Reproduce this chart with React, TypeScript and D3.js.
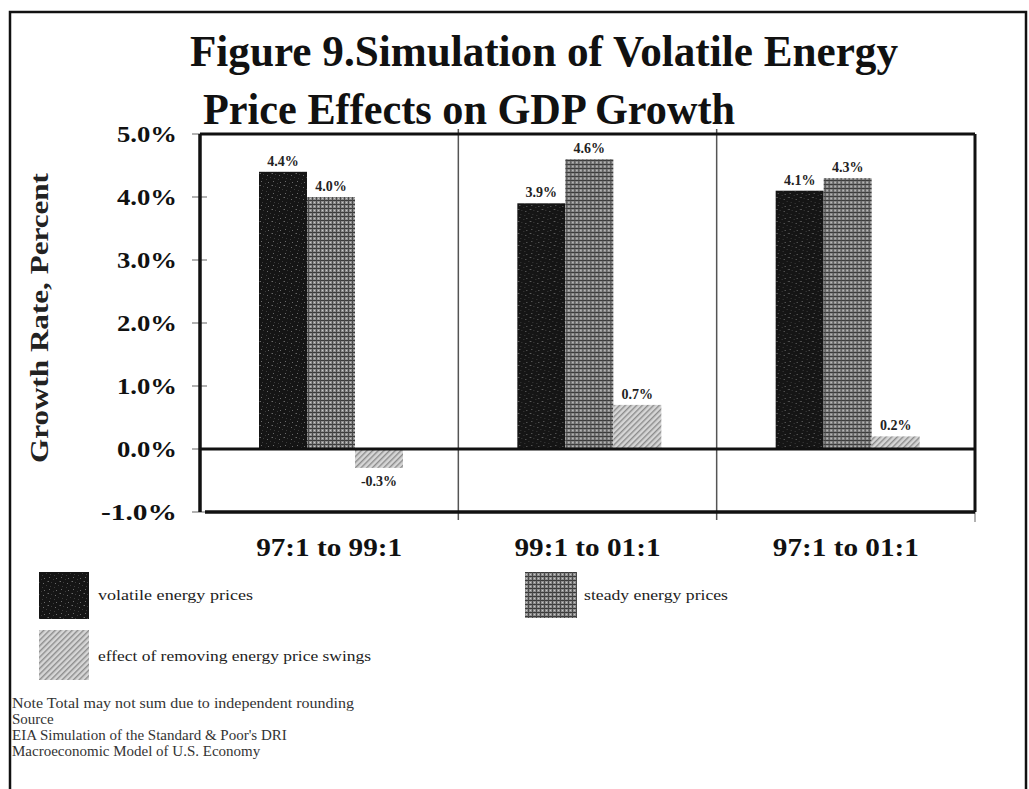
import React, { useMemo } from "react";
import * as d3 from "d3";

const titleLines = ["Figure 9.Simulation of Volatile Energy", "Price Effects on GDP Growth"];
const categories = ["97:1 to 99:1", "99:1 to 01:1", "97:1 to 01:1"];
const seriesKeys = ["volatile", "steady", "effect"];
const seriesNames = ["volatile energy prices", "steady energy prices", "effect of removing energy price swings"];
const volatileValues = [4.4, 3.9, 4.1];
const steadyValues = [4.0, 4.6, 4.3];
const effectValues = [-0.3, 0.7, 0.2];
const valueLabels = [
  ["4.4%", "4.0%", "-0.3%"],
  ["3.9%", "4.6%", "0.7%"],
  ["4.1%", "4.3%", "0.2%"],
];
const yTicks = [-1, 0, 1, 2, 3, 4, 5];
const yTitle = "Growth Rate, Percent";
const noteLines = [
  "Note Total may not sum due to independent rounding",
  "Source",
  "EIA Simulation of the Standard & Poor's DRI",
  "Macroeconomic Model of U.S. Economy",
];

const FONT = "'Liberation Serif', 'Times New Roman', serif";

export default function App() {
  const W = 1029, H = 789;
  const plotLeft = 200, plotRight = 975, plotTop = 134, plotBottom = 512;

  const y = d3.scaleLinear().domain([-1, 5]).range([plotBottom, plotTop]);
  const x0 = d3.scaleBand<string>().domain(categories).range([plotLeft, plotRight]).paddingInner(0).paddingOuter(0);
  const x1 = d3.scaleBand<string>().domain(seriesKeys).range([59, 203]).padding(0);

  const rows = categories.map((c, i) => ({
    cat: c,
    vals: [volatileValues[i], steadyValues[i], effectValues[i]],
    labels: valueLabels[i],
  }));

  const fills = ["url(#patVol)", "url(#patSteady)", "url(#patEffect)"];

  const speckles = useMemo(
    () => [
      [1, 1], [5, 3], [3, 6], [8, 2], [10, 9], [2, 10], [7, 7], [11, 5], [6, 11], [0, 5],
    ],
    []
  );

  return (
    <svg width={W} height={H} style={{ position: "absolute", left: 0, top: 0, background: "#fff" }}>
      <defs>
        <pattern id="patVol" width="12" height="12" patternUnits="userSpaceOnUse">
          <rect width="12" height="12" fill="#151515" />
          {speckles.map((s, i) => (
            <rect key={i} x={s[0]} y={s[1]} width="1" height="1" fill={i % 3 === 0 ? "#6a6a6a" : "#3c3c3c"} />
          ))}
        </pattern>
        <pattern id="patSteady" width="4" height="4" patternUnits="userSpaceOnUse">
          <rect width="4" height="4" fill="#8e8e8e" />
          <rect x="0" y="0" width="4" height="1" fill="#3a3a3a" />
          <rect x="0" y="0" width="1" height="4" fill="#4a4a4a" />
          <rect x="2" y="2" width="1" height="1" fill="#c8c8c8" />
        </pattern>
        <pattern id="patEffect" width="4" height="4" patternUnits="userSpaceOnUse" patternTransform="rotate(45)">
          <rect width="4" height="4" fill="#d6d6d6" />
          <rect x="0" y="0" width="1.4" height="4" fill="#8c8c8c" />
        </pattern>
      </defs>

      {/* outer frame */}
      <rect x={10} y={12} width={1016} height={790} fill="none" stroke="#111" strokeWidth={2.5} />

      {/* title */}
      <g fontFamily={FONT} fontWeight="bold" fill="#111">
        <text x={190} y={66} fontSize={44} textLength={708} lengthAdjust="spacingAndGlyphs">{titleLines[0]}</text>
        <text x={203} y={124} fontSize={44} textLength={532} lengthAdjust="spacingAndGlyphs">{titleLines[1]}</text>
      </g>

      {/* y axis title */}
      <text
        transform={`translate(48, ${(173 + 463) / 2}) rotate(-90)`}
        textAnchor="middle"
        fontFamily={FONT}
        fontWeight="bold"
        fontSize={25}
        fill="#222"
        textLength={290}
        lengthAdjust="spacingAndGlyphs"
      >
        {yTitle}
      </text>

      {/* y ticks */}
      <g fontFamily={FONT} fontWeight="bold" fontSize={24} fill="#111">
        {yTicks.map((t) => (
          <g key={t}>
            <line x1={plotLeft - 8} x2={plotLeft + 7} y1={y(t)} y2={y(t)} stroke="#999" strokeWidth={1.5} />
            <text
              x={177}
              y={y(t) + 8}
              textAnchor="end"
              textLength={t < 0 ? 76 : 60}
              lengthAdjust="spacingAndGlyphs"
            >
              {`${t.toFixed(1)}%`}
            </text>
          </g>
        ))}
      </g>

      {/* category dividers */}
      {categories.slice(1).map((c) => (
        <line key={c} x1={x0(c)!} x2={x0(c)!} y1={plotTop - 5} y2={plotBottom + 8} stroke="#555" strokeWidth={1.5} />
      ))}

      {/* bars */}
      {rows.map((r) => (
        <g key={r.cat} transform={`translate(${x0(r.cat)},0)`}>
          {r.vals.map((v, j) => {
            const bx = x1(seriesKeys[j])!;
            const bw = x1.bandwidth();
            const top = y(Math.max(0, v));
            const h = Math.abs(y(v) - y(0));
            return (
              <g key={j}>
                <rect x={bx} y={top} width={bw} height={h} fill={fills[j]} />
                <text
                  x={bx + bw / 2}
                  y={v >= 0 ? y(v) - 6 : y(v) + 18}
                  textAnchor="middle"
                  fontFamily={FONT}
                  fontWeight="bold"
                  fontSize={14}
                  fill="#222"
                >
                  {r.labels[j]}
                </text>
              </g>
            );
          })}
        </g>
      ))}

      {/* plot frame lines */}
      <line x1={plotLeft} x2={plotRight} y1={plotTop} y2={plotTop} stroke="#111" strokeWidth={3} />
      <line x1={plotLeft} x2={plotLeft} y1={plotTop} y2={plotBottom} stroke="#111" strokeWidth={3.5} />
      <line x1={plotRight} x2={plotRight} y1={plotTop} y2={plotBottom} stroke="#111" strokeWidth={3} />
      <line x1={plotRight} x2={plotRight} y1={plotBottom} y2={plotBottom + 10} stroke="#999" strokeWidth={1.5} />
      <line x1={plotLeft} x2={plotRight} y1={y(0)} y2={y(0)} stroke="#111" strokeWidth={3} />
      <line x1={plotLeft + 5} x2={plotRight} y1={plotBottom} y2={plotBottom} stroke="#111" strokeWidth={3.5} />

      {/* category labels */}
      {categories.map((c) => (
        <text
          key={c}
          x={x0(c)! + x0.bandwidth() / 2}
          y={556}
          textAnchor="middle"
          fontFamily={FONT}
          fontWeight="bold"
          fontSize={26}
          fill="#111"
          textLength={146}
          lengthAdjust="spacingAndGlyphs"
        >
          {c}
        </text>
      ))}

      {/* legend */}
      <g fontFamily={FONT} fontSize={14} fill="#222">
        <rect x={39} y={572} width={50} height={47} fill={fills[0]} />
        <text x={98} y={600} textLength={155} lengthAdjust="spacingAndGlyphs">{seriesNames[0]}</text>
        <rect x={525} y={572} width={52} height={46} fill={fills[1]} />
        <text x={584} y={600} textLength={144} lengthAdjust="spacingAndGlyphs">{seriesNames[1]}</text>
        <rect x={39} y={630} width={50} height={50} fill={fills[2]} />
        <text x={98} y={661} textLength={273} lengthAdjust="spacingAndGlyphs">{seriesNames[2]}</text>
      </g>

      {/* notes */}
      <g fontFamily={FONT} fontSize={15} fill="#333">
        {noteLines.map((l, i) => (
          <text
            key={i}
            x={12}
            y={708 + i * 16}
            {...(i === 0 ? { textLength: 342, lengthAdjust: "spacingAndGlyphs" } : {})}
          >
            {l}
          </text>
        ))}
      </g>
    </svg>
  );
}
